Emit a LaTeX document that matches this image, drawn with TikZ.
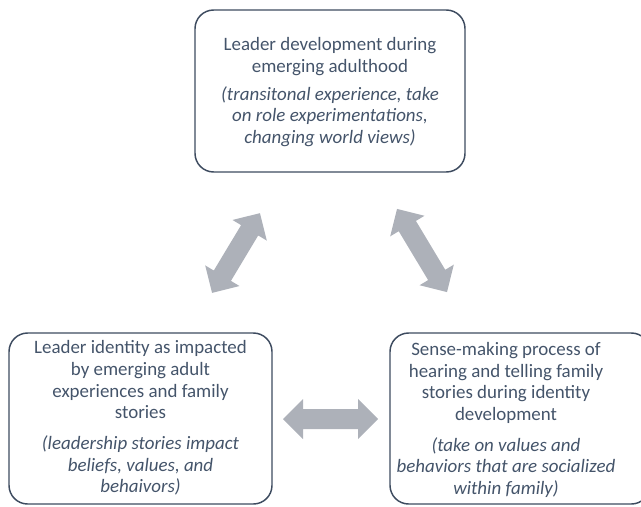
\documentclass[tikz,border=0pt]{standalone}
\usepackage{fontspec}
\setmainfont{Carlito}
\definecolor{txtc}{HTML}{44546A}
\definecolor{bordc}{HTML}{3D4B5F}
\definecolor{arrc}{HTML}{ADB1B9}
\newcommand{\blockdbl}[1]{(-#1,0) -- (-#1+20,20) -- (-#1+20,10) -- (#1-20,10) -- (#1-20,20) -- (#1,0) -- (#1-20,-20) -- (#1-20,-10) -- (-#1+20,-10) -- (-#1+20,-20) -- cycle}
\begin{document}
\begin{tikzpicture}[x=0.75pt,y=-0.75pt,
  box/.style={draw=bordc, line width=1.1pt, rounded corners=14pt, inner sep=0pt},
  lbl/.style={text=txtc, align=center, font=\fontsize{14.2}{16.2}\selectfont, inner sep=0pt},
  blockarrow/.style={fill=arrc}]
\useasboundingbox (0,0) rectangle (641,506);
% boxes
\node[box, minimum width=202.5pt, minimum height=121.5pt] (top) at (330,91) {};
\node[box, minimum width=197.25pt, minimum height=128.25pt] (left) at (140.5,418.5) {};
\node[box, minimum width=195pt, minimum height=128.25pt] (right) at (520,418.5) {};
% texts
\node[lbl] (toptxt) at (330,92) {Leader development during\\emerging adulthood\\[5pt]
  \itshape (transitonal experience, take\\\itshape on role experimentations,\\\itshape changing world views)};
\node[lbl] (lefttxt) at (140.5,418) {Leader identity as impacted\\by emerging adult\\experiences and family\\stories\\[7pt]
  \itshape (leadership stories impact\\\itshape beliefs, values, and\\\itshape behaivors)};
\node[lbl] (righttxt) at (506,420) {Sense-making process of\\hearing and telling family\\stories during identity\\development\\[7pt]
  \itshape (take on values and\\\itshape behaviors that are socialized\\\itshape within family)};
% block arrows
\begin{scope}[shift={(236,253)}, rotate=59]
  \fill[blockarrow] \blockdbl{46.5};
\end{scope}
\begin{scope}[shift={(422,250.5)}, rotate=-59]
  \fill[blockarrow] \blockdbl{48.5};
\end{scope}
\begin{scope}[shift={(330.5,419)}]
  \fill[blockarrow] \blockdbl{47.5};
\end{scope}
\end{tikzpicture}
\end{document}
